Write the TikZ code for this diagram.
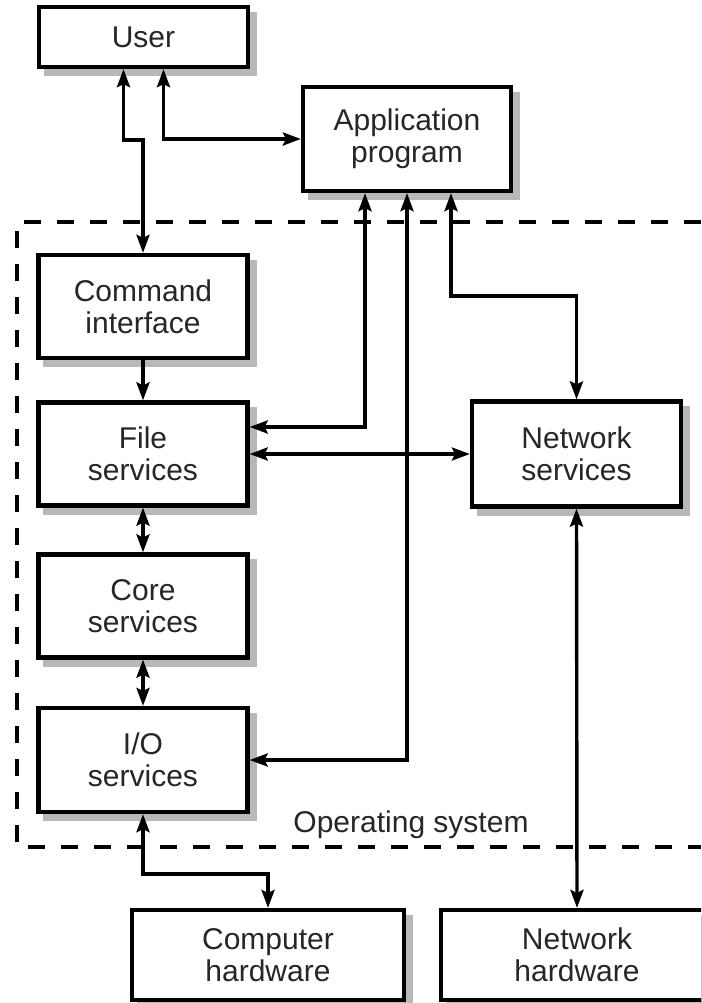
\documentclass[tikz,border=0pt]{standalone}
\usepackage{fontspec}
\setmainfont{Liberation Sans}
\usetikzlibrary{arrows.meta,backgrounds}

\begin{document}
\begin{tikzpicture}[x=1pt, y=-1pt,
  box/.style={draw, line width=4.2pt, fill=white, align=center, inner sep=0pt,
    minimum width=209pt, minimum height=103pt, text=black!85,
    font={\fontsize{30}{32}\selectfont}},
  boxshadow/.style={fill=black!28},
  link/.style={line width=3.4pt, -{Stealth[length=18pt,width=13pt,inset=3pt]}},
  dbl/.style={line width=3.4pt, {Stealth[length=18pt,width=13pt,inset=3pt]}-{Stealth[length=18pt,width=13pt,inset=3pt]}},
  osframe/.style={line width=4.5pt, dash pattern=on 17pt off 16pt}]

\clip (0,0) rectangle (701,1003);

% operating system frame
\draw[osframe] (701,222) -- (17,222) -- (17,847) -- (701,847);

\node[box, minimum height=60pt] (user) at (143.5,37) {User};
\node[box, minimum width=208pt, minimum height=104pt] (app) at (407,139) {Application\\program};

\node[box] (cmd) at (143,306.5) {Command\\interface};
\node[box] (file) at (143,454) {File\\services};
\node[box] (core) at (143,606) {Core\\services};
\node[box, minimum height=104pt] (io) at (143,760) {I/O\\services};
\node[box, minimum height=105pt] (net) at (576.5,454) {Network\\services};

\node[text=black!85, font={\fontsize{30}{32}\selectfont}] (os) at (411,825) {Operating system};

\node[box, minimum width=272pt, minimum height=90pt] (comphw) at (268,955) {Computer\\hardware};
\node[box, minimum width=272pt, minimum height=90pt] (nethw) at (577,955) {Network\\hardware};

% grey shadows behind the boxes
\begin{scope}[on background layer]
\foreach \n in {user,app,cmd,file,core,io,net,comphw,nethw}
  \fill[boxshadow] ([shift={(7pt,-7pt)}]\n.south west) rectangle ([shift={(7pt,-7pt)}]\n.north east);
\end{scope}

% connectors
\draw[dbl] ([xshift=-20pt]user.south) -- ++(0,71) -| (cmd.north);
\draw[dbl] ([xshift=20pt]user.south) |- (app.west);
\draw[dbl] ([xshift=-42pt]app.south) |- ([yshift=27pt]file.east);
\draw[dbl] (app.south) |- (io.east);
\draw[dbl] ([xshift=44pt]app.south) -- ++(0,103) -| (net.north);
\draw[link] (cmd.south) -- (file.north);
\draw[dbl] (file.east) -- (net.west);
\draw[dbl] (file.south) -- (core.north);
\draw[dbl] (core.south) -- (io.north);
\draw[dbl] (io.south) -- ++(0,60) -| (comphw.north);
\draw[dbl] (net.south) -- (nethw.north);

\end{tikzpicture}
\end{document}
